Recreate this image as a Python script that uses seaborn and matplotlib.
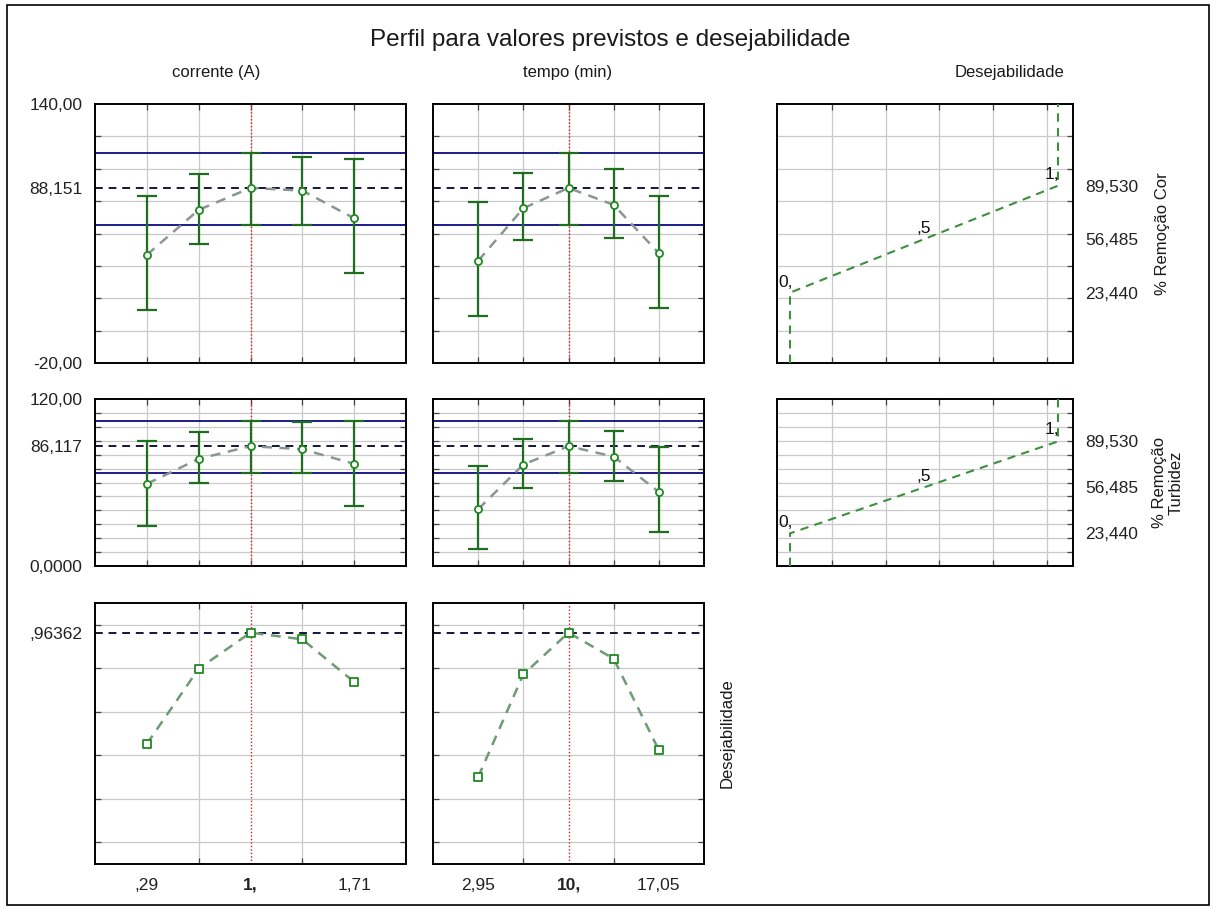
import numpy as np
import pandas as pd
import matplotlib
matplotlib.use("Agg")
import matplotlib.pyplot as plt
import seaborn as sns
from matplotlib.patches import Rectangle

# ------------------------------------------------------------------ data
corrente_levels = [0.29, 0.645, 1.0, 1.355, 1.71]
tempo_levels = [2.95, 6.475, 10.0, 13.525, 17.05]
corrente_ticks = [0.29, 1.0, 1.71]
corrente_ticklabels = [",29", "1,", "1,71"]
tempo_ticks = [2.95, 10.0, 17.05]
tempo_ticklabels = ["2,95", "10,", "17,05"]

cor_pred = 88.151
cor_ci = [65.3, 109.6]
cor_vs_corrente = [46.8, 74.6, 88.151, 86.5, 69.4]
cor_vs_corrente_lo = [12.8, 53.4, 65.3, 65.3, 35.5]
cor_vs_corrente_hi = [83.2, 96.6, 109.6, 107.1, 106.0]
cor_vs_tempo = [43.1, 75.6, 88.151, 77.7, 47.8]
cor_vs_tempo_lo = [9.1, 56.0, 65.3, 57.1, 13.9]
cor_vs_tempo_hi = [79.7, 97.6, 109.6, 99.9, 83.4]

turb_pred = 86.117
turb_ci = [66.7, 104.3]
turb_vs_corrente = [59.0, 77.0, 86.117, 83.9, 73.4]
turb_vs_corrente_lo = [29.0, 60.0, 66.7, 66.7, 43.2]
turb_vs_corrente_hi = [90.1, 96.2, 104.3, 103.4, 104.3]
turb_vs_tempo = [40.8, 72.9, 86.117, 78.6, 53.2]
turb_vs_tempo_lo = [12.2, 55.9, 66.7, 61.2, 24.7]
turb_vs_tempo_hi = [72.2, 91.4, 104.3, 97.1, 85.4]

desej_pred = 0.96362
desej_vs_corrente = [0.452, 0.798, 0.96362, 0.933, 0.737]
desej_vs_tempo = [0.300, 0.772, 0.96362, 0.844, 0.424]

desej_levels = [0.0, 0.5, 1.0]
desej_level_labels = ["0,", ",5", "1,"]
cor_desej_response = [23.44, 56.485, 89.53]
turb_desej_response = [23.44, 56.485, 89.53]
resp_ticklabels = ["23,440", "56,485", "89,530"]

row1_ylim = (-20.0, 140.0)
row1_labels = ["-20,00", "88,151", "140,00"]
row2_ylim = (0.0, 120.0)
row2_labels = ["0,0000", "86,117", "120,00"]
row3_ylim = (-0.1, 1.1)

# ------------------------------------------------------------------ style
sns.set_theme(style="white")
plt.rcParams["font.family"] = ["Liberation Sans", "DejaVu Sans"]

W, H = 1216, 909
fig = plt.figure(figsize=(W / 100, H / 100), dpi=100)
fig.patch.set_facecolor("white")

GRID = "#c9c9c9"
GREEN = "#1f6e1f"
MARK = "#1f8a1f"
CONN = "#8a9696"
BLUE = "#1c1c8a"
PRED = "#15153a"
RED = "#d42020"
TICK_FS = 12.5


def add_ax(x0, y0, x1, y1):
    return fig.add_axes([x0 / W, 1 - y1 / H, (x1 - x0) / W, (y1 - y0) / H])


def frame(ax, xgrid, ygrid):
    ax.set_xticks(xgrid, minor=True)
    ax.set_yticks(ygrid, minor=True)
    ax.grid(False)
    ax.grid(which="minor", color=GRID, lw=0.9, zorder=0)
    ax.tick_params(which="minor", direction="in", length=4, width=0.9,
                   color="#444444", top=True, bottom=True, left=True, right=True)
    ax.tick_params(which="major", length=0, labelsize=TICK_FS, colors="#222222")
    for s in ax.spines.values():
        s.set_color("black")
        s.set_linewidth(1.4)
    ax.set_xlabel("")
    ax.set_ylabel("")


def profile(ax, xs, y, lo, hi, xlim, ylim, ygrid, center, pred, ci, ylabels,
            xticks=None, xlabels=None, marker="o"):
    ax.set_xlim(xlim)
    ax.set_ylim(ylim)
    if ci is not None:
        for c in ci:
            ax.axhline(c, color=BLUE, lw=1.4, zorder=2)
    ax.axhline(pred, color=PRED, lw=1.4, ls=(0, (4, 3)), zorder=2)
    ax.axvline(center, color=RED, lw=1.0, ls=(0, (1, 1.5)), zorder=1)
    if lo is not None:
        y_arr = np.asarray(y)
        ax.errorbar(xs, y, yerr=[y_arr - np.asarray(lo), np.asarray(hi) - y_arr],
                    fmt="none", ecolor=GREEN, elinewidth=1.6, capsize=7,
                    capthick=1.6, zorder=3)
    conn = CONN if marker == "o" else "#6f9a76"
    sns.lineplot(x=xs, y=y, ax=ax, color=conn, lw=1.8, linestyle=(0, (4, 3)),
                 zorder=4, sort=False, estimator=None)
    sns.scatterplot(x=xs, y=y, ax=ax, marker="s" if marker == "s" else "o",
                    s=26 if marker == "o" else 34, zorder=5)
    coll = ax.collections[-1]
    coll.set_facecolor("white")
    coll.set_edgecolor(MARK)
    coll.set_linewidth(1.3)
    frame(ax, xs, ygrid)
    if ylabels is not None:
        ax.set_yticks(ylabels[0], labels=ylabels[1])
    else:
        ax.set_yticks([])
    ax.tick_params(axis="y", which="major", pad=9)
    if xticks is not None:
        ax.set_xticks(xticks, labels=xlabels)
        ax.tick_params(axis="x", which="major", pad=10)
        for lbl in ax.get_xticklabels():
            if lbl.get_text() in ("1,", "10,"):
                lbl.set_fontweight("bold")
    else:
        ax.set_xticks([])


def desirability_panel(ax, resp, ylim, ygrid):
    ax.set_xlim(-0.0485, 1.056)
    ax.set_ylim(ylim)
    xs = [desej_levels[0]] + desej_levels + [desej_levels[-1]]
    ys = [ylim[0]] + resp + [ylim[1]]
    sns.lineplot(x=xs, y=ys, ax=ax, sort=False, estimator=None, color="#3d8f3d",
                 lw=1.5, linestyle=(0, (4, 3)), zorder=3)
    span = ylim[1] - ylim[0]
    # label anchors: (dx in data, dy in px) relative to the curve point
    offsets = [(-0.045, 3), (-0.03, 3), (-0.05, 4)]
    for d, r, t, (dx, dy) in zip(desej_levels, resp, desej_level_labels, offsets):
        ax.text(d + dx, r + dy * span / (ax.bbox.height), t, fontsize=12.5,
                color="#111111", ha="left", va="bottom", zorder=5)
    frame(ax, [0.157, 0.357, 0.557, 0.757, 0.958], ygrid)
    ax.set_xticks([])
    ax.yaxis.tick_right()
    ax.set_yticks(resp, labels=resp_ticklabels)
    ax.tick_params(axis="y", which="major", pad=9, right=True, left=False,
                   labelright=True, labelleft=False)


# column extents (pixels)
C1 = (95, 406)
C2 = (433, 704)
C3 = (777, 1073)
R1 = (104, 363)
R2 = (399, 566)
R3 = (603, 864)

cx_lim = (-0.065, 2.065)
tx_lim = (-0.575, 20.575)
r1_grid = np.arange(0, 121, 20)
r2_grid = np.arange(10, 111, 10)
r3_grid = np.arange(0, 1.01, 0.2)

# row 1
ax = add_ax(C1[0], R1[0], C1[1], R1[1])
profile(ax, corrente_levels, cor_vs_corrente, cor_vs_corrente_lo, cor_vs_corrente_hi,
        cx_lim, row1_ylim, r1_grid, 1.0, cor_pred, cor_ci,
        ([row1_ylim[0], cor_pred, row1_ylim[1]], row1_labels))
ax = add_ax(C2[0], R1[0], C2[1], R1[1])
profile(ax, tempo_levels, cor_vs_tempo, cor_vs_tempo_lo, cor_vs_tempo_hi,
        tx_lim, row1_ylim, r1_grid, 10.0, cor_pred, cor_ci, None)
ax = add_ax(C3[0], R1[0], C3[1], R1[1])
desirability_panel(ax, cor_desej_response, row1_ylim, r1_grid)

# row 2
ax = add_ax(C1[0], R2[0], C1[1], R2[1])
profile(ax, corrente_levels, turb_vs_corrente, turb_vs_corrente_lo, turb_vs_corrente_hi,
        cx_lim, row2_ylim, r2_grid, 1.0, turb_pred, turb_ci,
        ([row2_ylim[0], turb_pred, row2_ylim[1]], row2_labels))
ax = add_ax(C2[0], R2[0], C2[1], R2[1])
profile(ax, tempo_levels, turb_vs_tempo, turb_vs_tempo_lo, turb_vs_tempo_hi,
        tx_lim, row2_ylim, r2_grid, 10.0, turb_pred, turb_ci, None)
ax = add_ax(C3[0], R2[0], C3[1], R2[1])
desirability_panel(ax, turb_desej_response, row2_ylim, r2_grid)

# row 3
ax = add_ax(C1[0], R3[0], C1[1], R3[1])
profile(ax, corrente_levels, desej_vs_corrente, None, None, cx_lim, row3_ylim,
        r3_grid, 1.0, desej_pred, None, ([desej_pred], [",96362"]),
        corrente_ticks, corrente_ticklabels, marker="s")
ax = add_ax(C2[0], R3[0], C2[1], R3[1])
profile(ax, tempo_levels, desej_vs_tempo, None, None, tx_lim, row3_ylim,
        r3_grid, 10.0, desej_pred, None, None,
        tempo_ticks, tempo_ticklabels, marker="s")

# ------------------------------------------------------------------ texts
def ftext(x, y, s, **kw):
    fig.text(x / W, 1 - y / H, s, **kw)

ftext(610, 40, "Perfil para valores previstos e desejabilidade", fontsize=17.5,
      ha="center", va="center", color="#1a1a1a")
ftext(216, 73, "corrente (A)", fontsize=12, ha="center", va="center", color="#1a1a1a")
ftext(568, 73, "tempo (min)", fontsize=12, ha="center", va="center", color="#1a1a1a")
ftext(1010, 73, "Desejabilidade", fontsize=12, ha="center", va="center", color="#1a1a1a")
ftext(1162, (R1[0] + R1[1]) / 2, "% Remoção Cor", fontsize=12, rotation=90,
      ha="center", va="center", color="#1a1a1a")
ftext(1168, (R2[0] + R2[1]) / 2, "% Remoção\nTurbidez", fontsize=12, rotation=90,
      ha="center", va="center", color="#1a1a1a", linespacing=1.15, multialignment="center")
ftext(727, (R3[0] + R3[1]) / 2, "Desejabilidade", fontsize=12, rotation=90,
      ha="center", va="center", color="#1a1a1a")

fig.add_artist(Rectangle((7 / W, 1 - 905 / H), (1209 - 7) / W, (905 - 5) / H,
                         transform=fig.transFigure, fill=False, lw=1.2,
                         edgecolor="black"))

fig.savefig("out.png", dpi=100, facecolor="white")
